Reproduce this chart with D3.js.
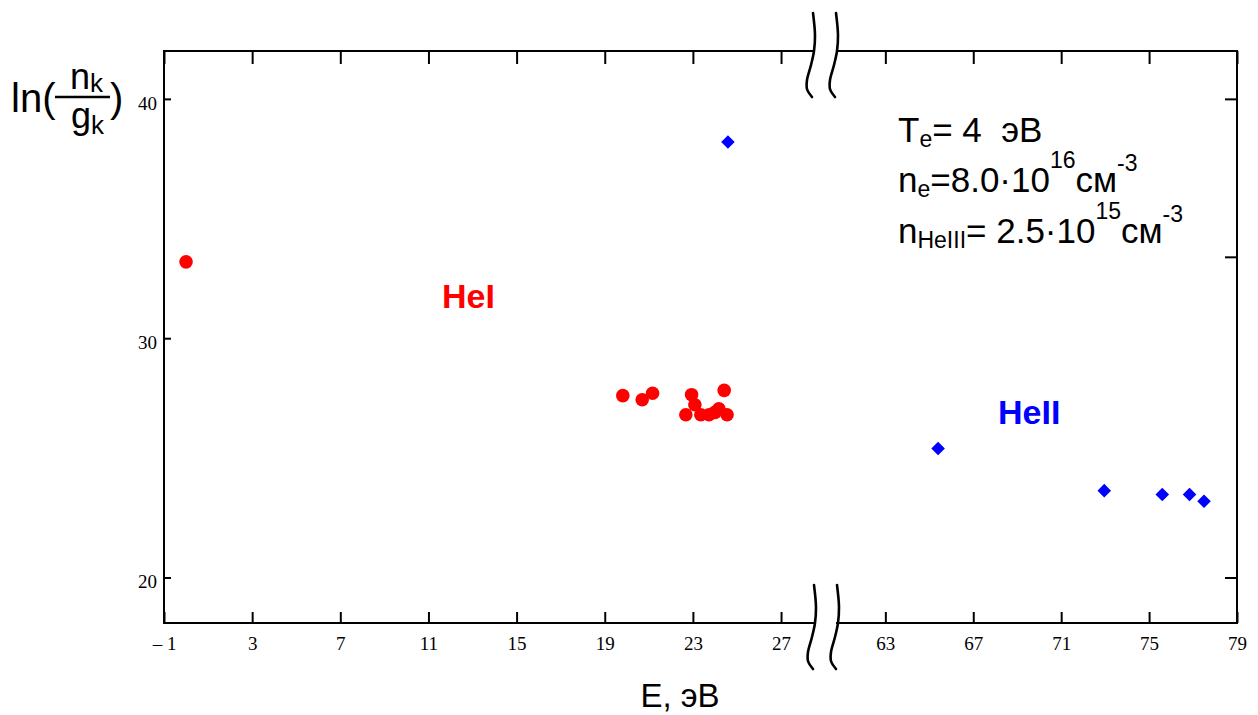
<!DOCTYPE html>
<html><head><meta charset="utf-8">
<script src="https://cdn.jsdelivr.net/npm/d3@7"></script>
<style>body{margin:0;background:#fff} text{white-space:pre}</style>
</head><body>
<svg id="c" width="1258" height="715"></svg>
<script>
// ---- data ----
const heI_E  = [0, 19.82, 20.7, 21.17, 22.94, 24.42, 22.68, 23.09, 23.36, 23.73, 24.0, 24.18, 24.55];
const heI_ln = [33.19, 27.6, 27.43, 27.7, 27.64, 27.82, 26.8, 27.22, 26.8, 26.8, 26.9, 27.05, 26.8];
const heII_E  = [24.59, 65.4, 72.96, 75.6, 76.84, 77.5];
const heII_ln = [38.2, 25.39, 23.63, 23.47, 23.47, 23.19];
const xTicksLeft  = [-1, 3, 7, 11, 15, 19, 23, 27];
const xTicksRight = [63, 67, 71, 75, 79];
const yTicks = [20, 30, 40];
const yTicksRight = [20, 33.4, 40];
const xDomainLeft = [-1, 28.45];
const xDomainRight = [60.8, 79];
const yDomain = [18.1, 42];

// ---- layout ----
const L = 164, R = 1237, T = 51, B = 623, BL = 813, BR = 837;
const svg = d3.select("#c");
const xL = d3.scaleLinear().domain(xDomainLeft).range([L, BL]);
const xR = d3.scaleLinear().domain(xDomainRight).range([BR, R]);
const y = d3.scaleLinear().domain(yDomain).range([B, T]);
const xOf = e => e < 40 ? xL(e) : xR(e);
const serif = "'Liberation Serif','Times New Roman',serif";
const sans = "'Liberation Sans',Arial,sans-serif";
const fmt = d => d < 0 ? "\u2013 " + Math.abs(d) : String(d);

function styleAxis(g) {
  g.select(".domain").remove();
  g.selectAll("line").attr("stroke", "#000").attr("stroke-width", 2);
  g.selectAll("text").attr("font-family", serif).attr("font-size", 19).attr("fill", "#000");
}
// bottom axes (ticks inward)
svg.append("g").attr("transform", `translate(0,${B})`)
  .call(d3.axisBottom(xL).tickValues(xTicksLeft).tickSize(-11).tickPadding(14).tickFormat(fmt)).call(styleAxis);
svg.append("g").attr("transform", `translate(0,${B})`)
  .call(d3.axisBottom(xR).tickValues(xTicksRight).tickSize(-11).tickPadding(14).tickFormat(fmt)).call(styleAxis);
// top axes
svg.append("g").attr("transform", `translate(0,${T})`)
  .call(d3.axisTop(xL).tickValues(xTicksLeft).tickSize(-13).tickFormat("")).call(styleAxis);
svg.append("g").attr("transform", `translate(0,${T})`)
  .call(d3.axisTop(xR).tickValues(xTicksRight).tickSize(-13).tickFormat("")).call(styleAxis);
// left axis
const gl = svg.append("g").attr("transform", `translate(${L},0)`)
  .call(d3.axisLeft(y).tickValues(yTicks).tickSize(-7).tickPadding(7)).call(styleAxis);
gl.selectAll("text").attr("dy", "0.55em");
// right axis
svg.append("g").attr("transform", `translate(${R},0)`)
  .call(d3.axisRight(y).tickValues(yTicksRight).tickSize(-12).tickFormat("")).call(styleAxis);

// frame
const frame = [[L, T, BL, T], [BR, T, R, T], [L, B, BL, B], [BR, B, R, B], [L, T, L, B], [R, T, R, B]];
svg.append("g").selectAll("line").data(frame).join("line")
  .attr("x1", d => d[0]).attr("y1", d => d[1]).attr("x2", d => d[2]).attr("y2", d => d[3])
  .attr("stroke", "#000").attr("stroke-width", 2).attr("stroke-linecap", "square");

// break squiggles
const sq = [[0, -38], [2, -16], [1, 0], [-2, 14], [-6, 29], [-6, 38], [-1, 46]];
const sline = d3.line().curve(d3.curveCatmullRom);
[[BL, T], [BR - 1, T], [BL + 1, B], [BR, B]].forEach(([cx, cy]) => {
  svg.append("path").attr("d", sline(sq.map(p => [cx + p[0], cy + p[1]])))
    .attr("fill", "none").attr("stroke", "#000").attr("stroke-width", 2.6).attr("stroke-linecap", "round");
});

// points
svg.append("g").selectAll("circle").data(heI_E).join("circle")
  .attr("cx", d => xOf(d)).attr("cy", (d, i) => y(heI_ln[i])).attr("r", 6.8).attr("fill", "#ff0000");
svg.append("g").selectAll("path").data(heII_E).join("path")
  .attr("d", d3.symbol().type(d3.symbolSquare).size(92))
  .attr("transform", (d, i) => `translate(${xOf(d)},${y(heII_ln[i])}) rotate(45)`).attr("fill", "#0000ff");

// labels
svg.append("text").attr("x", 442).attr("y", 308).attr("font-family", sans).attr("font-weight", "bold")
  .attr("font-size", 34).attr("fill", "#ff0000").text("HeI");
svg.append("text").attr("x", 998).attr("y", 424).attr("font-family", sans).attr("font-weight", "bold")
  .attr("font-size", 34).attr("fill", "#0000ff").text("HeII");

// x label
svg.append("text").attr("x", 680).attr("y", 707).attr("text-anchor", "middle").attr("font-family", sans)
  .attr("font-size", 33).attr("fill", "#000").text("E, эВ");

// y label
const yl = svg.append("g").attr("font-family", sans).attr("fill", "#000");
yl.append("text").attr("x", 11).attr("y", 112).attr("font-size", 40).text("ln(");
yl.append("line").attr("x1", 55).attr("x2", 110).attr("y1", 97).attr("y2", 97).attr("stroke", "#000").attr("stroke-width", 2.5);
const nk = yl.append("text").attr("x", 70).attr("y", 89).attr("font-size", 36);
nk.append("tspan").text("n"); nk.append("tspan").attr("font-size", 26).attr("dy", 3).text("k");
const gk = yl.append("text").attr("x", 71).attr("y", 128).attr("font-size", 36);
gk.append("tspan").text("g"); gk.append("tspan").attr("font-size", 26).attr("dy", 6).text("k");
yl.append("text").attr("x", 110).attr("y", 112).attr("font-size", 40).text(")");

// parameter box
const pb = svg.append("g").attr("font-family", sans).attr("fill", "#000");
const fs = 35, ss = 23, x0 = 898;
const l1 = pb.append("text").attr("x", x0).attr("y", 142).attr("font-size", fs);
l1.append("tspan").text("T");
l1.append("tspan").attr("font-size", ss).attr("dy", 5).text("e");
l1.append("tspan").attr("dy", -5).text("= 4  эВ");
const l2 = pb.append("text").attr("x", x0).attr("y", 192).attr("font-size", fs);
l2.append("tspan").text("n");
l2.append("tspan").attr("font-size", ss).attr("dy", 5).text("e");
l2.append("tspan").attr("dy", -5).text("=8.0·10");
l2.append("tspan").attr("font-size", ss).attr("dy", -24).text("16");
l2.append("tspan").attr("dy", 24).text("см");
l2.append("tspan").attr("font-size", ss).attr("dy", -21).text("-3");
const l3 = pb.append("text").attr("x", x0).attr("y", 243).attr("font-size", fs);
l3.append("tspan").text("n");
l3.append("tspan").attr("font-size", ss).attr("dy", 5).text("HeIII");
l3.append("tspan").attr("dy", -5).text("= 2.5·10");
l3.append("tspan").attr("font-size", ss).attr("dy", -24).text("15");
l3.append("tspan").attr("dy", 24).text("см");
l3.append("tspan").attr("font-size", ss).attr("dy", -21).text("-3");
</script>
</body></html>
